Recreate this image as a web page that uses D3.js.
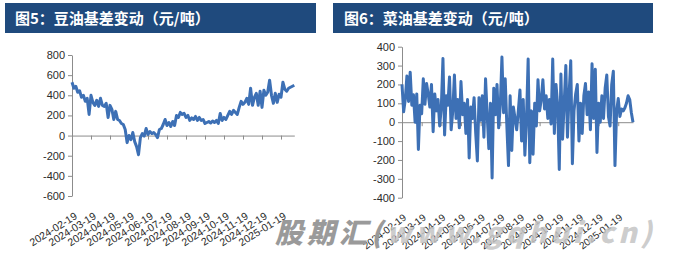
<!DOCTYPE html>
<html>
<head>
<meta charset="utf-8">
<script src="https://cdn.jsdelivr.net/npm/d3@7"></script>
<style>
  body { margin: 0; background: #fff; }
  .axis text { font-family: "Liberation Sans", Arial, sans-serif; }
</style>
</head>
<body>
<div id="chart"></div>
<script>
// month labels shared by both panels
var monthLabels = ["2024-02-19", "2024-03-19", "2024-04-19", "2024-05-19", "2024-06-19", "2024-07-19",
    "2024-08-19", "2024-09-19", "2024-10-19", "2024-11-19", "2024-12-19", "2025-01-19"]

// 图5 soybean oil basis, about 10 points per month
var soyBasis = [530, 470, 490, 430, 445, 380, 400, 340, 370, 210,
    400, 330, 300, 350, 290, 370, 300, 290, 320, 180,
    300, 260, 160, 240, 160, 150, 120, 110, 60, -70,
    0, -40, 30, -60, -110, -190, -20, 20, -5, 70,
    10, 40, 20, 30, 10, -20, 60, 70, 110, 160,
    100, 130, 90, 140, 100, 200, 180, 230, 210, 220,
    180, 200, 150, 175, 160, 190, 150, 180, 150, 160,
    120, 130, 140, 125, 145, 130, 150, 120, 220, 150,
    180, 160, 200, 240, 210, 250, 230, 210, 280, 340,
    310, 330, 370, 310, 470, 300, 380, 420, 300, 440,
    280, 450, 400, 430, 550, 400, 320, 420, 330, 410,
    380, 530, 460, 440, 470, 480, 490, 500]
var soyTicks = [-600, -400, -200, 0, 200, 400, 600, 800]

// 图6 rapeseed oil basis, about 12 points per month
var rapeBasis = [200, 55, 120, 245, 110, 265, 90, 145, 0, 150,
    -145, 90, 45, 230, 95, 205, 150, 80, 200, -50,
    150, 60, 120, -20, 80, 337, -68, 140, 90, 240,
    -40, 60, 250, 20, 120, -30, 215, 40, 100, -60,
    120, -190, 80, 20, 130, -60, -205, 130, 10, 140,
    -80, 230, 40, -140, 100, -295, 180, 40, 200, -30,
    90, 345, 50, 230, -20, -230, 140, -150, 80, 20,
    -40, 60, 170, -100, 120, -175, 20, 335, -215, 60,
    -170, 100, -20, 225, 60, 120, 225, 70, 140, 20,
    120, -10, 335, -60, 200, 90, -250, 255, -90, 100,
    300, -80, 150, 325, -220, 60, 150, 200, -100, 100,
    -60, 140, 205, 40, 160, -40, 310, 20, 280, -160,
    100, 0, 140, 20, 180, 250, 30, -20, 200, 270,
    -230, 60, 125, 30, 70, 60, 75, 100, 140, 120,
    50, 0]
var rapeTicks = [-400, -300, -200, -100, 0, 100, 200, 300, 400]

var titles = ["图5：豆油基差变动（元/吨）", "图6：菜油基差变动（元/吨）"]

var lineColor = "#3d70b5"
var axisColor = "#8c8c8c"
var labelColor = "#2b2b2b"

var svg = d3.select("#chart")
    .append("svg")
    .attr("width", 673)
    .attr("height", 259)

// title bars
var bars = [{x: 5, w: 311, t: titles[0], tx: 15}, {x: 333, w: 320, t: titles[1], tx: 344}]
svg.selectAll(".titlebar")
    .data(bars)
    .enter()
    .append("rect")
    .attr("class", "titlebar")
    .attr("x", function (d) { return d.x })
    .attr("y", 3)
    .attr("width", function (d) { return d.w })
    .attr("height", 30)
    .attr("fill", "#1f4a7d")
svg.selectAll(".titletext")
    .data(bars)
    .enter()
    .append("text")
    .attr("class", "titletext")
    .attr("x", function (d) { return d.tx })
    .attr("y", 24)
    .attr("fill", "#fff")
    .style("font-family", "'Noto Sans CJK SC', sans-serif")
    .style("font-weight", "bold")
    .style("font-size", "15px")
    .text(function (d) { return d.t })

function panel(values, ticks, opt) {
    var x = d3.scaleLinear()
        .domain([0, values.length - 1])
        .range([opt.left, opt.right])
    var y = d3.scaleLinear()
        .domain([ticks[0], ticks[ticks.length - 1]])
        .range([opt.bottom, opt.top])

    // y axis, plain hyphen for negatives like the original
    var ya = svg.append("g")
        .attr("class", "axis")
        .attr("transform", "translate(" + opt.left + ",0)")
        .call(d3.axisLeft(y).tickValues(ticks).tickSize(4).tickSizeOuter(0).tickPadding(3)
            .tickFormat(function (d) { return String(d) }))
    ya.select(".domain").attr("stroke", axisColor)
    ya.selectAll(".tick line").attr("stroke", axisColor)
    ya.selectAll("text").attr("fill", labelColor).style("font-size", "11px")

    // x axis along zero
    var tickIdx = monthLabels.map(function (m, k) { return k * opt.perMonth })
    var xa = svg.append("g")
        .attr("class", "axis")
        .attr("transform", "translate(0," + y(0) + ")")
        .call(d3.axisBottom(x).tickValues(tickIdx).tickSize(4).tickSizeOuter(0).tickFormat(""))
    xa.select(".domain").attr("stroke", axisColor)
    xa.selectAll(".tick line").attr("stroke", axisColor)

    // month labels below the plot
    svg.append("g")
        .attr("class", "axis")
        .selectAll("text")
        .data(monthLabels)
        .enter()
        .append("text")
        .attr("transform", function (d, k) {
            return "translate(" + (x(tickIdx[k]) + opt.lx) + "," + opt.ly + ") rotate(" + opt.rot + ")"
        })
        .attr("text-anchor", "end")
        .attr("fill", labelColor)
        .style("font-size", opt.fs + "px")
        .text(function (d) { return d })

    var line = d3.line()
        .x(function (d, i) { return x(i) })
        .y(function (d) { return y(d) })
    svg.append("path")
        .datum(values)
        .attr("d", line)
        .attr("fill", "none")
        .attr("stroke", lineColor)
        .attr("stroke-width", 3)
        .attr("stroke-linejoin", "round")
}

panel(soyBasis, soyTicks, {left: 72, right: 294.3, top: 55, bottom: 196, perMonth: 10,
    lx: 6, ly: 218, rot: -32, fs: 10.5})
panel(rapeBasis, rapeTicks, {left: 402, right: 633, top: 46.7, bottom: 197.7, perMonth: 12,
    lx: 5, ly: 219, rot: -37, fs: 10})

// watermark
var wm = svg.append("text")
    .attr("x", 275)
    .attr("y", 243)
    .attr("textLength", 377)
    .attr("lengthAdjust", "spacing")
    .style("font-family", "'Noto Sans CJK SC', sans-serif")
    .style("font-weight", "900")
    .style("font-style", "italic")
    .style("font-size", "28px")
wm.append("tspan").attr("fill", "#9a9a9a").text("股期汇(")
wm.append("tspan").attr("fill", "#c4c4c4").attr("fill-opacity", 0.85).text("www.gqhui.cn)")
</script>
</body>
</html>
